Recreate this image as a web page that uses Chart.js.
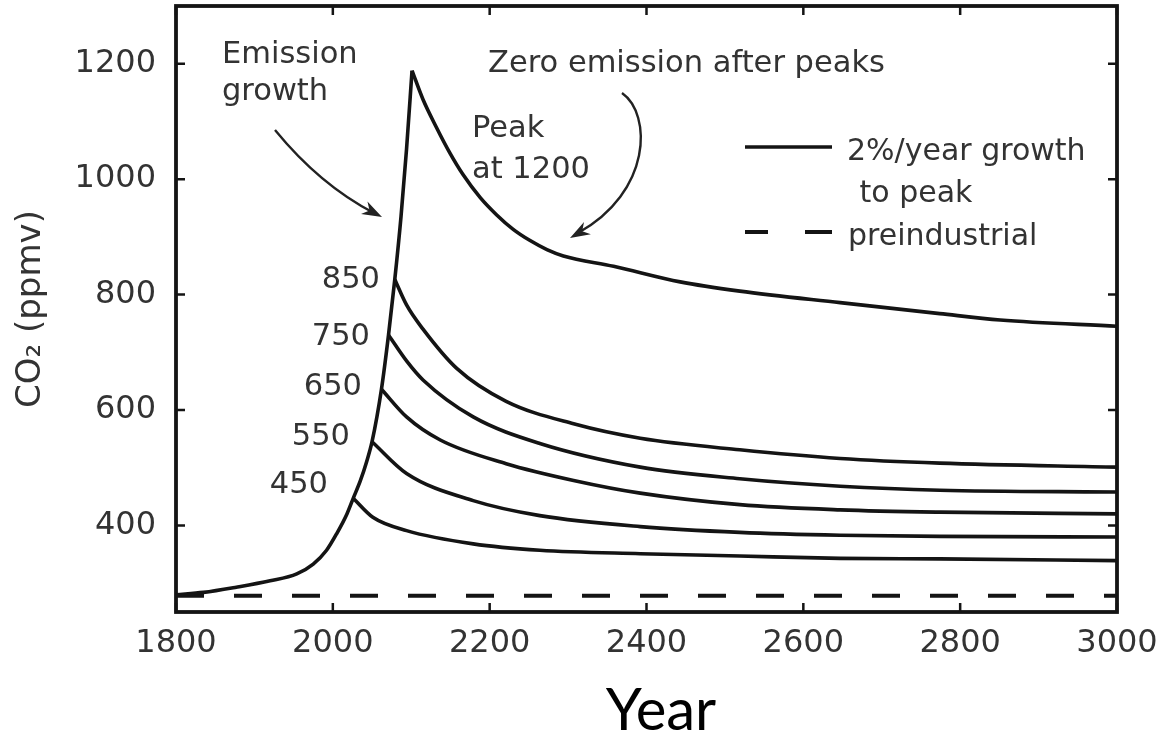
<!DOCTYPE html>
<html>
<head>
<meta charset="utf-8">
<script src="https://cdn.jsdelivr.net/npm/chart.js@4.4.1/dist/chart.umd.min.js"></script>
<style>
html,body{margin:0;padding:0;background:#ffffff;}
canvas{display:block;}
</style>
</head>
<body>
<canvas id="c" width="1167" height="740"></canvas>
<script>
// ---- tick labels ----
const xTickValues = [1800, 2000, 2200, 2400, 2600, 2800, 3000];
const yTickValues = [400, 600, 800, 1000, 1200];

// ---- 2%/year growth to peak (shared rising branch) ----
const growthYears = [1800, 1835, 1877, 1920, 1954, 1975, 1992, 2005, 2018, 2026, 2035, 2043, 2050, 2062, 2071, 2079, 2087, 2094, 2101];
const growthCO2   = [280,  284,  293,  304,  316,  333,  357,  386,  420,  447,  477,  510,  545,  636,  730,  826,  936,  1052, 1188];

// ---- zero emission after peaks (decay branches) ----
const peak1200Years = [2101, 2115, 2132, 2149, 2166, 2188, 2209, 2230, 2251, 2273, 2294, 2358, 2443, 2519, 2647, 2774, 2851, 3000];
const peak1200CO2   = [1188, 1138, 1090, 1046, 1008, 968,  938,  913,  894,  878,  867,  849,  822,  806,  786,  767,  756,  745];

const peak850Years = [2079, 2094, 2115, 2158, 2221, 2307, 2392, 2519, 2647, 2774, 3000];
const peak850CO2   = [826,  782,  740,  672,  615,  576,  551,  531,  516,  508,  501];

const peak750Years = [2071, 2094, 2115, 2179, 2264, 2392, 2519, 2647, 2774, 3000];
const peak750CO2   = [730,  685,  652,  588,  542,  501,  481,  468,  461,  458];

const peak650Years = [2062, 2094, 2137, 2221, 2307, 2392, 2519, 2647, 2774, 3000];
const peak650CO2   = [636,  588,  548,  507,  478,  456,  436,  427,  423,  420];

const peak550Years = [2050, 2094, 2179, 2264, 2392, 2519, 2647, 2774, 3000];
const peak550CO2   = [545,  490,  443,  417,  398,  388,  383,  381,  380];

const peak450Years = [2026, 2051, 2094, 2179, 2264, 2392, 2519, 2647, 2774, 3000];
const peak450CO2   = [447,  414,  391,  368,  357,  351,  347,  343,  342,  339];

// ---- preindustrial reference ----
const preindustrialYears = [1800, 3000];
const preindustrialCO2   = [278, 278];

const peakLabels = ['850', '750', '650', '550', '450'];

function pts(xs, ys) { return xs.map((x, i) => ({ x: x, y: ys[i] })); }

const INK = '#141414';
const TXT = '#333333';
const FONT = 'DejaVu Sans';

function lineDs(label, xs, ys, dash) {
  return {
    label: label,
    data: pts(xs, ys),
    borderColor: INK,
    borderWidth: dash ? 4 : 3.6,
    borderDash: dash || [],
    pointRadius: 0,
    fill: false,
    cubicInterpolationMode: 'monotone',
    borderCapStyle: 'butt',
    borderJoinStyle: 'round'
  };
}

// Annotation layout (pixel offsets relative to chart-area top-left)
const annotations = [
  { t: 'Emission', dx: 46, dy: 57, align: 'left', size: 30.5 },
  { t: 'growth', dx: 46, dy: 94, align: 'left', size: 30.5 },
  { t: 'Zero emission after peaks', dx: 312, dy: 66, align: 'left', size: 30.5 },
  { t: 'Peak', dx: 296, dy: 131, align: 'left', size: 30.5 },
  { t: 'at 1200', dx: 296, dy: 172, align: 'left', size: 30.5 },
  { t: peakLabels[0], dx: 204, dy: 282, align: 'right', size: 30.5 },
  { t: peakLabels[1], dx: 194, dy: 339, align: 'right', size: 30.5 },
  { t: peakLabels[2], dx: 186, dy: 389, align: 'right', size: 30.5 },
  { t: peakLabels[3], dx: 174, dy: 439, align: 'right', size: 30.5 },
  { t: peakLabels[4], dx: 152, dy: 487, align: 'right', size: 30.5 },
  { t: '2%/year growth', dx: 671, dy: 154, align: 'left', size: 30 },
  { t: ' to peak', dx: 674, dy: 196, align: 'left', size: 30 },
  { t: 'preindustrial', dx: 672, dy: 239, align: 'left', size: 30 }
];

function arrowHead(ctx, x, y, angle, len, half) {
  ctx.save();
  ctx.translate(x, y);
  ctx.rotate(angle);
  ctx.beginPath();
  ctx.moveTo(0, 0);
  ctx.lineTo(-len, -half);
  ctx.lineTo(-len * 0.7, 0);
  ctx.lineTo(-len, half);
  ctx.closePath();
  ctx.fill();
  ctx.restore();
}

const framePlugin = {
  id: 'frameAndNotes',
  afterDatasetsDraw(chart) {
    const ctx = chart.ctx;
    const a = chart.chartArea;
    const xs = chart.scales.x, ys = chart.scales.y;
    ctx.save();
    // frame
    ctx.strokeStyle = INK;
    ctx.lineWidth = 3.8;
    ctx.strokeRect(a.left, a.top, a.right - a.left, a.bottom - a.top);
    // inward ticks
    const tl = 9;
    ctx.lineWidth = 2.5;
    ctx.beginPath();
    xs.ticks.forEach(t => {
      const px = xs.getPixelForValue(t.value);
      ctx.moveTo(px, a.bottom); ctx.lineTo(px, a.bottom - tl);
      ctx.moveTo(px, a.top); ctx.lineTo(px, a.top + tl);
    });
    ys.ticks.forEach(t => {
      const py = ys.getPixelForValue(t.value);
      ctx.moveTo(a.left, py); ctx.lineTo(a.left + tl, py);
      ctx.moveTo(a.right, py); ctx.lineTo(a.right - tl, py);
    });
    ctx.stroke();

    // annotations text
    ctx.fillStyle = TXT;
    ctx.textBaseline = 'alphabetic';
    annotations.forEach(n => {
      ctx.font = n.size + 'px "' + FONT + '"';
      ctx.textAlign = n.align;
      ctx.fillText(n.t, a.left + n.dx, a.top + n.dy);
    });

    // legend sample lines
    ctx.strokeStyle = INK;
    ctx.lineWidth = 3.4;
    ctx.beginPath();
    ctx.moveTo(a.left + 569, a.top + 141);
    ctx.lineTo(a.left + 656, a.top + 141);
    ctx.stroke();
    ctx.lineWidth = 4;
    ctx.beginPath();
    ctx.moveTo(a.left + 569, a.top + 226); ctx.lineTo(a.left + 592, a.top + 226);
    ctx.moveTo(a.left + 629, a.top + 226); ctx.lineTo(a.left + 656, a.top + 226);
    ctx.stroke();

    // arrows
    ctx.strokeStyle = '#222';
    ctx.fillStyle = '#222';
    ctx.lineWidth = 2.4;
    // Emission growth arrow (quadratic)
    const p0 = [a.left + 99, a.top + 124], c = [a.left + 144, a.top + 179], p1 = [a.left + 206, a.top + 211];
    ctx.beginPath();
    ctx.moveTo(p0[0], p0[1]);
    ctx.quadraticCurveTo(c[0], c[1], p1[0] - 8, p1[1] - 4);
    ctx.stroke();
    arrowHead(ctx, p1[0], p1[1], Math.atan2(p1[1] - c[1], p1[0] - c[0]), 20, 7);
    // Zero emission arrow (cubic)
    const q0 = [a.left + 446, a.top + 87], q1 = [a.left + 476, a.top + 108], q2 = [a.left + 476, a.top + 186], q3 = [a.left + 394, a.top + 232];
    ctx.beginPath();
    ctx.moveTo(q0[0], q0[1]);
    ctx.bezierCurveTo(q1[0], q1[1], q2[0], q2[1], q3[0] + 8, q3[1] - 5);
    ctx.stroke();
    arrowHead(ctx, q3[0], q3[1], Math.atan2(q3[1] - q2[1], q3[0] - q2[0]), 20, 7);
    ctx.restore();
  }
};

new Chart(document.getElementById('c'), {
  type: 'line',
  data: {
    datasets: [
      lineDs('2%/year growth to peak', growthYears, growthCO2),
      lineDs('Peak at 1200', peak1200Years, peak1200CO2),
      lineDs('850', peak850Years, peak850CO2),
      lineDs('750', peak750Years, peak750CO2),
      lineDs('650', peak650Years, peak650CO2),
      lineDs('550', peak550Years, peak550CO2),
      lineDs('450', peak450Years, peak450CO2),
      lineDs('preindustrial', preindustrialYears, preindustrialCO2, [28, 30])
    ]
  },
  options: {
    responsive: false,
    animation: false,
    devicePixelRatio: 1,
    layout: { padding: { left: 0, right: 50, top: 6, bottom: 0 } },
    plugins: { legend: { display: false }, tooltip: { enabled: false } },
    scales: {
      x: {
        type: 'linear',
        min: 1800, max: 3000,
        afterBuildTicks: s => { s.ticks = xTickValues.map(v => ({ value: v })); },
        afterFit: s => { s.height = 128; s.paddingLeft = 0; s.paddingRight = 0; s.paddingTop = 0; s.paddingBottom = 0; },
        grid: { display: false },
        border: { display: false },
        ticks: { padding: 4, maxRotation: 0, autoSkip: false, color: TXT, font: { family: FONT, size: 32 }, callback: v => String(v) },
        title: { display: true, text: '\u2002Year', color: '#000', font: { family: 'Lato', size: 58, lineHeight: 1.0 }, padding: { top: 0, bottom: 0 } }
      },
      y: {
        type: 'linear',
        min: 250, max: 1300,
        afterBuildTicks: s => { s.ticks = yTickValues.map(v => ({ value: v })); },
        afterFit: s => { s.width = 176; s.paddingLeft = 0; s.paddingRight = 0; s.paddingTop = 0; s.paddingBottom = 0; },
        grid: { display: false },
        border: { display: false },
        ticks: { padding: 12, color: TXT, font: { family: FONT, size: 32 }, callback: v => String(v) },
        title: { display: true, text: 'CO\u2082 (ppmv)', color: TXT, font: { family: FONT, size: 34 }, padding: { top: 11, bottom: 0 } }
      }
    }
  },
  plugins: [framePlugin]
});
</script>
</body>
</html>
